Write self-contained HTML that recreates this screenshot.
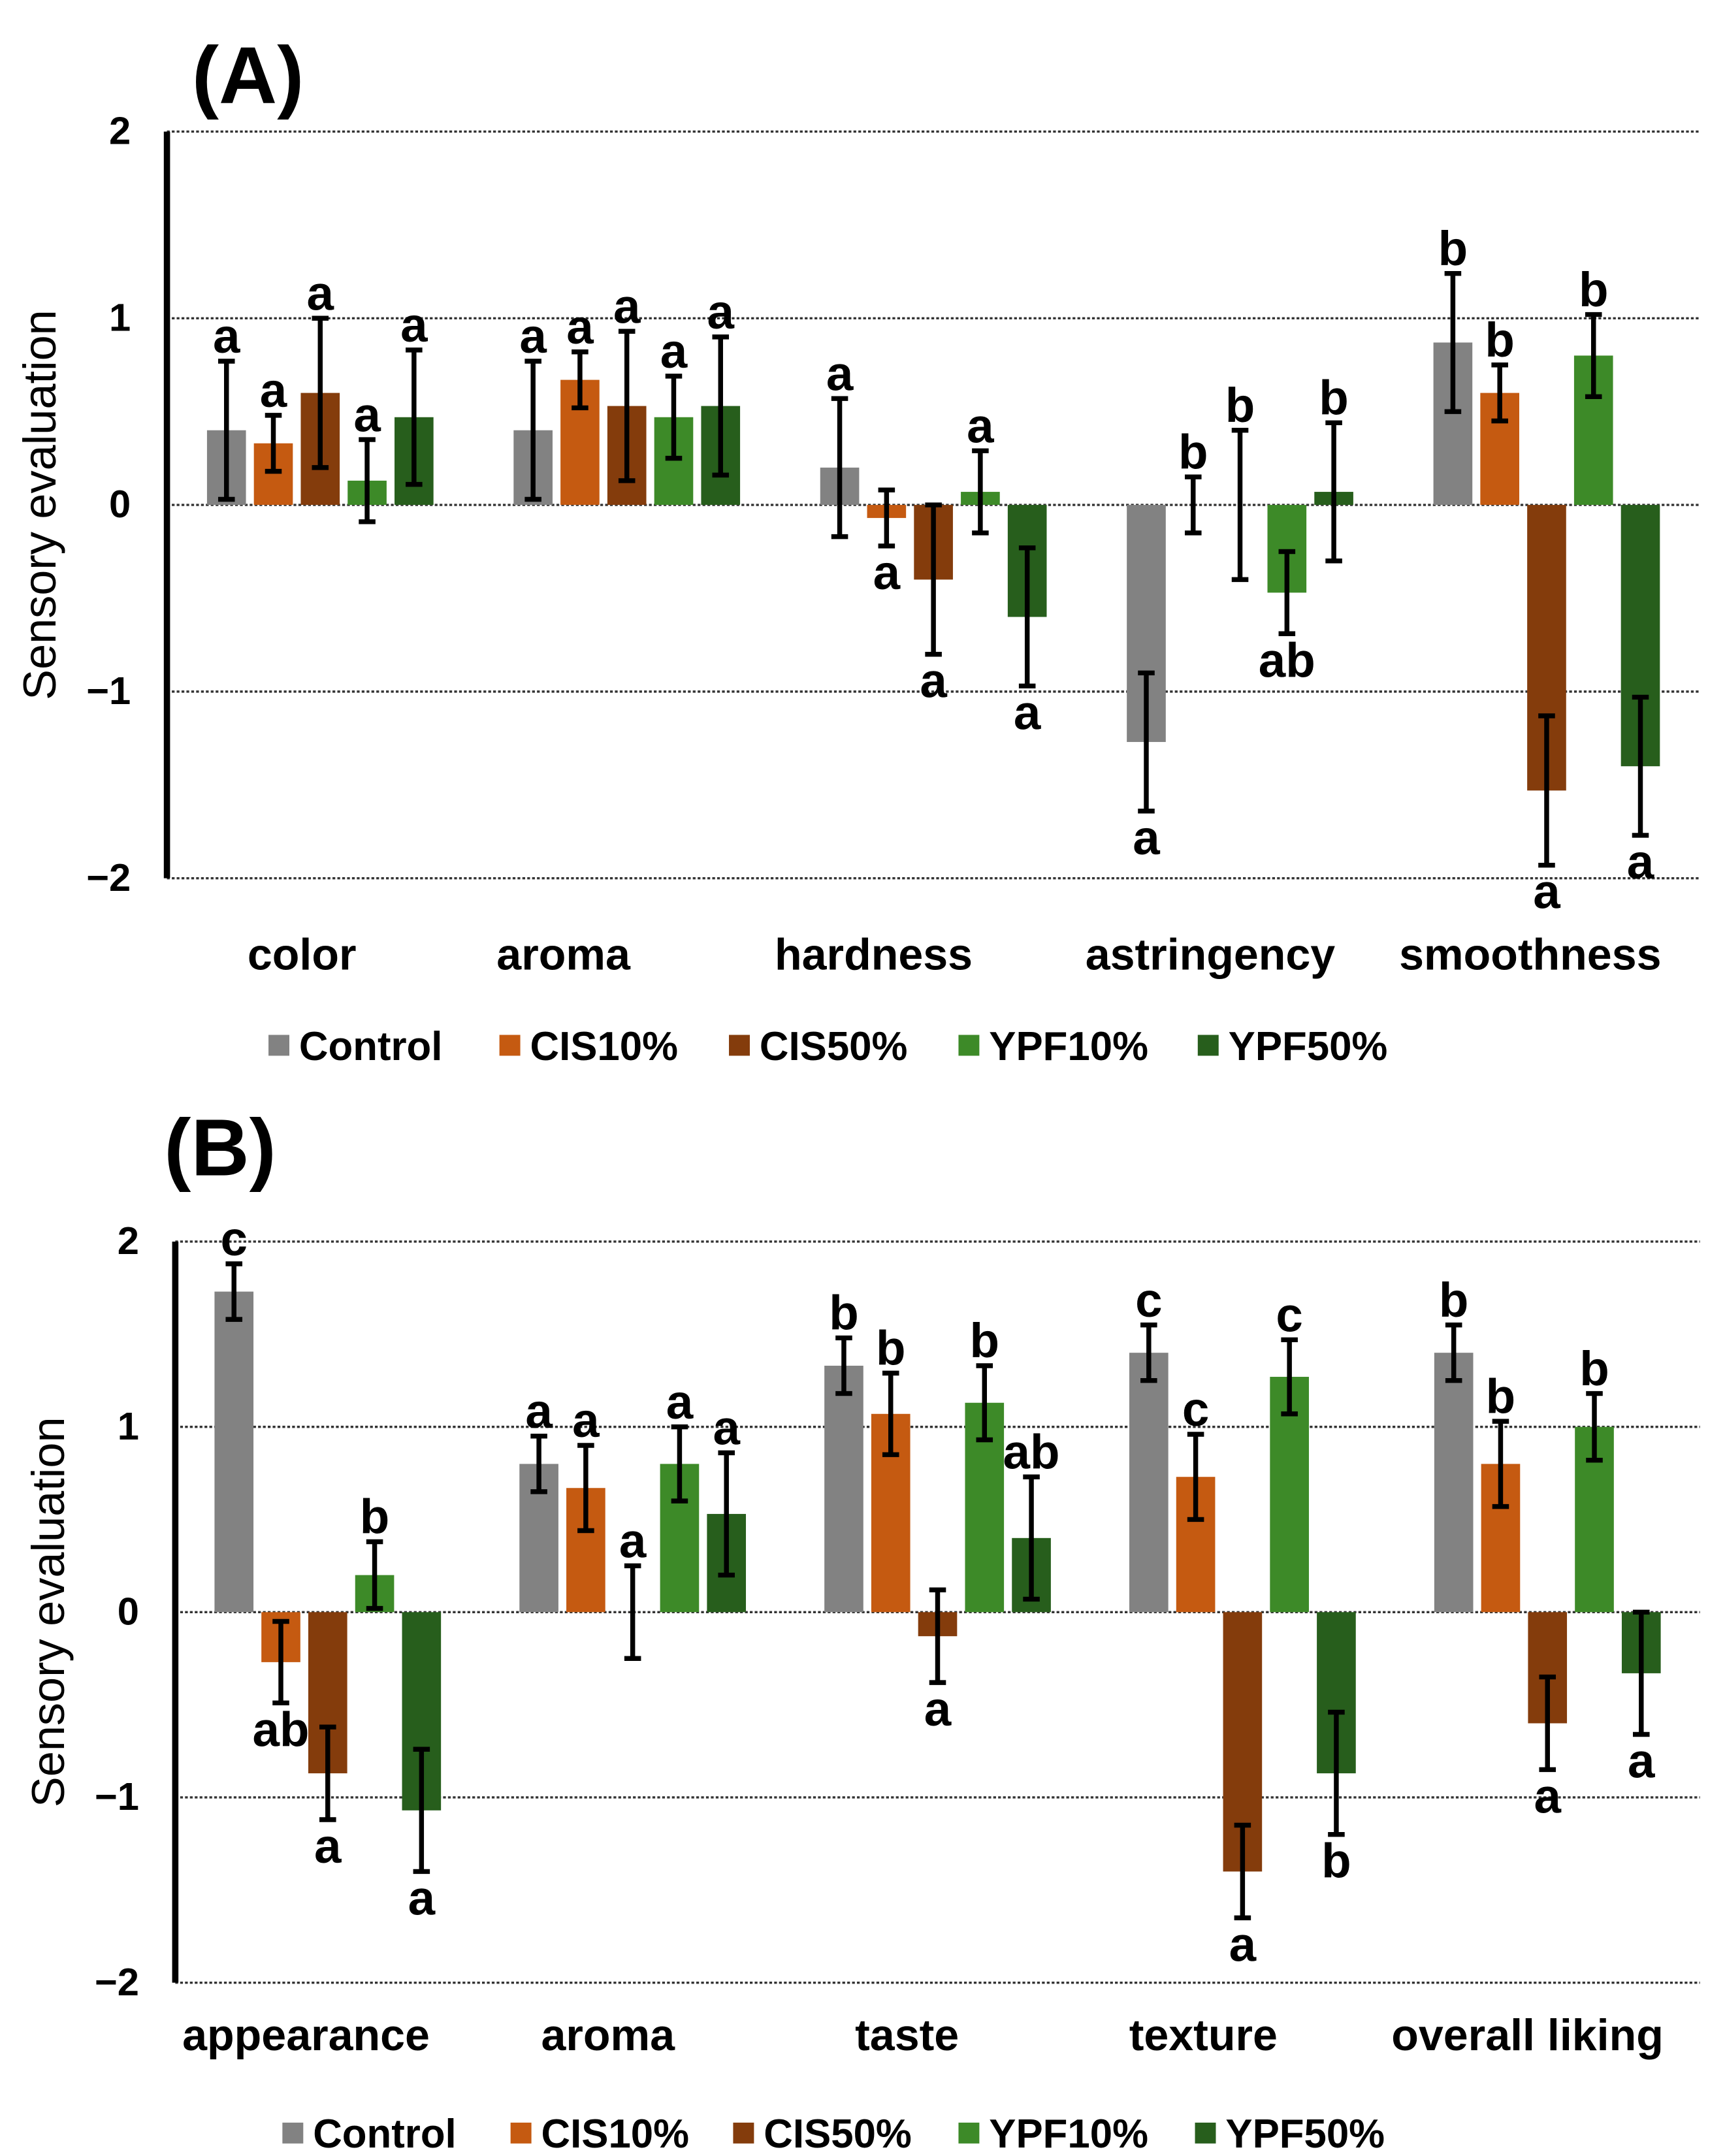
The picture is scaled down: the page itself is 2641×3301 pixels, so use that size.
<!DOCTYPE html>
<html><head><meta charset="utf-8"><style>
html,body{margin:0;padding:0;background:#fff;}
svg{display:block;font-family:"Liberation Sans",sans-serif;font-weight:bold;}
</style></head><body>
<svg id="chart" width="2641" height="3301" viewBox="0 0 1240 1550" preserveAspectRatio="none" xmlns="http://www.w3.org/2000/svg"></svg>
<script>
const series = ["Control","CIS10%","CIS50%","YPF10%","YPF50%"];
const colors = ["#828282","#c55a11","#843c0c","#3d8a28","#275e1c"];
const tickValues = [2,1,0,-1,-2];
const tickLabels = ["2","1","0","\u22121","\u22122"];
const catsA = ["color","aroma","hardness","astringency","smoothness"];
const valsA = [[0.4,0.33,0.6,0.13,0.47],[0.4,0.67,0.53,0.47,0.53],[0.2,-0.07,-0.4,0.07,-0.6],[-1.27,0,0,-0.47,0.07],[0.87,0.6,-1.53,0.8,-1.4]];
const errA = [[0.37,0.15,0.4,0.22,0.36],[0.37,0.15,0.4,0.22,0.37],[0.37,0.15,0.4,0.22,0.37],[0.37,0.15,0.4,0.22,0.37],[0.37,0.15,0.4,0.22,0.37]];
const letA = [["a","a","a","a","a"],["a","a","a","a","a"],["a","a","a","a","a"],["a","b","b","ab","b"],["b","b","a","b","a"]];
const catsB = ["appearance","aroma","taste","texture","overall liking"];
const valsB = [[1.73,-0.27,-0.87,0.2,-1.07],[0.8,0.67,0,0.8,0.53],[1.33,1.07,-0.13,1.13,0.4],[1.4,0.73,-1.4,1.27,-0.87],[1.4,0.8,-0.6,1.0,-0.33]];
const errB = [[0.15,0.22,0.25,0.18,0.33],[0.15,0.23,0.25,0.2,0.33],[0.15,0.22,0.25,0.2,0.33],[0.15,0.23,0.25,0.2,0.33],[0.15,0.23,0.25,0.18,0.33]];
const letB = [["c","ab","a","b","a"],["a","a","a","a","a"],["b","b","a","b","ab"],["c","c","a","c","b"],["b","b","a","b","a"]];

const svg = document.getElementById('chart');
const NS = "http://www.w3.org/2000/svg";
function mk(tag, attrs, parent){const e=document.createElementNS(NS,tag);for(const k in attrs)e.setAttribute(k,attrs[k]);(parent||svg).appendChild(e);return e;}

function panel(cfg, cats, vals, errs, lets){
  const g = mk('g',{});
  
  
  const y = v => cfg.y0 - v*cfg.unit;
  const groupW = (cfg.x1 - cfg.x0)/cats.length;
  const gx = i => cfg.x0 + groupW*(i+0.5);
  const step = 33.7, bw = 28;
  const t = mk('text',{x:cfg.titleX,y:cfg.titleY,'font-size':58},g); t.textContent='('+cfg.id+')';
  
  
  tickValues.forEach((v,k)=>{
    const l = mk('line',{x1:cfg.x0,x2:cfg.x1,y1:y(v),y2:y(v),stroke:'#333','stroke-width':1.6,'stroke-dasharray':'2,1.5'},g);
    
    
    const tl = mk('text',{x:cfg.x0-26,y:y(v)+9,'font-size':28,'text-anchor':'end'},g); tl.textContent=tickLabels[k];
    
    
  });
  const ax = mk('line',{x1:cfg.x0,x2:cfg.x0,y1:y(2),y2:y(-2),stroke:'#000','stroke-width':4.5},g);
  
  
  const yt = mk('text',{x:0,y:0,'font-size':33,'font-weight':'normal','text-anchor':'middle',transform:`translate(${cfg.x0-80},${y(0)}) rotate(-90)`},g);
  yt.textContent='Sensory evaluation';
  
  
  cats.forEach((c,i)=>{
    series.forEach((s,j)=>{
      const v = vals[i][j], e = errs[i][j];
      const cx = gx(i) + (j-2)*step;
      const r = mk('rect',{x:cx-bw/2,y:Math.min(y(v),y(0)),width:bw,height:Math.max(Math.abs(y(v)-y(0)),0.01),fill:colors[j]},g);
      
      
      const eb = mk('path',{d:`M${cx},${y(v+e)}V${y(v-e)}M${cx-6},${y(v+e)}H${cx+6}M${cx-6},${y(v-e)}H${cx+6}`,stroke:'#000','stroke-width':3.5,fill:'none'},g);
      
      
      const up = v >= 0;
      const lt = mk('text',{x:cx,y:up?y(v+e)-6:y(v-e)+31,'font-size':35,'text-anchor':'middle'},g);
      lt.textContent = lets[i][j];
      
      
    });
    const cl = mk('text',{x:cfg.labelX[i],y:cfg.labelY,'font-size':32,'text-anchor':'middle'},g);
    cl.textContent=c;
    
    
  });
  series.forEach((s,j)=>{
    const lg = mk('g',{},g);
    
    
    mk('rect',{x:cfg.legX[j],y:cfg.legY-20,width:15,height:15,fill:colors[j]},lg);
    const tx = mk('text',{x:cfg.legX[j]+22,y:cfg.legY-2,'font-size':29},lg); tx.textContent=s;
  });
}
panel({id:'A',x0:120,x1:1222,y0:363,unit:134.2,titleX:138,titleY:74,labelX:[217,405,628,870,1100],labelY:697,legX:[193,359,524,689,861],legY:764},catsA,valsA,errA,letA);
panel({id:'B',x0:126,x1:1222,y0:1159,unit:133.2,titleX:118,titleY:845,labelX:[220,437,652,865,1098],labelY:1474,legX:[203,367,527,689,859],legY:1546},catsB,valsB,errB,letB);
</script>
</body></html>
